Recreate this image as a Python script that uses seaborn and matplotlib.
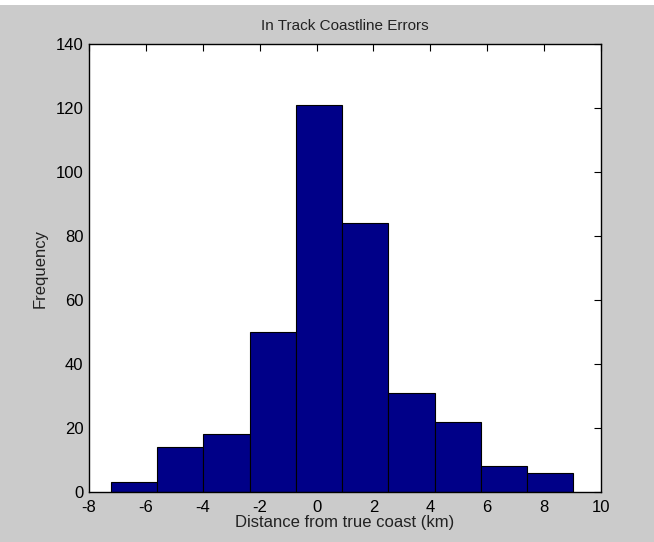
import numpy as np
import pandas as pd
import matplotlib
matplotlib.use("Agg")
import matplotlib.pyplot as plt
import seaborn as sns
from matplotlib.patches import Rectangle

# 히스토그램 값
bin_lo = -7.23
bin_hi = 9.03
counts = [3, 14, 18, 50, 121, 84, 31, 22, 8, 6]
x_ticks = [-8, -6, -4, -2, 0, 2, 4, 6, 8, 10]
y_ticks = [0, 20, 40, 60, 80, 100, 120, 140]

edges = np.linspace(bin_lo, bin_hi, len(counts) + 1)
centers = (edges[:-1] + edges[1:]) / 2
df = pd.DataFrame({"distance": centers, "count": counts})

sns.set_theme(style="white")
plt.rcParams["font.family"] = ["Liberation Sans", "DejaVu Sans"]
plt.rcParams["axes.unicode_minus"] = False

fig = plt.figure(figsize=(6.54, 5.42), dpi=100, facecolor="#cbcbcb")
ax = fig.add_axes([89 / 654, 50 / 542, 512 / 654, 448 / 542])
ax.set_facecolor("white")

sns.histplot(data=df, x="distance", weights="count",
             bins=len(counts), binrange=(bin_lo, bin_hi),
             color="#000088", edgecolor="black", linewidth=0.8, alpha=1.0, ax=ax)

ax.set_xlim(-8, 10)
ax.set_ylim(0, 140)
ax.set_xticks(x_ticks)
ax.set_yticks(y_ticks)
ax.tick_params(direction="in", length=5, width=0.8, top=True, right=True,
               labelsize=12, colors="black")
ax.tick_params(axis="x", pad=6)
ax.tick_params(axis="y", pad=4)
for s in ax.spines.values():
    s.set_color("black")
    s.set_linewidth(1.0)

ax.set_title("In Track Coastline Errors", fontsize=11, pad=10, color="#222222")
ax.set_xlabel("Distance from true coast (km)", fontsize=12, labelpad=0, color="#222222")
ax.set_ylabel("Frequency", fontsize=12, labelpad=6, color="#222222")

# 위쪽 흰 띠
fig.add_artist(Rectangle((0, 1 - 5 / 542), 1, 5 / 542, transform=fig.transFigure,
                         facecolor="white", edgecolor="none"))

fig.savefig("out.png", dpi=100, facecolor=fig.get_facecolor())
